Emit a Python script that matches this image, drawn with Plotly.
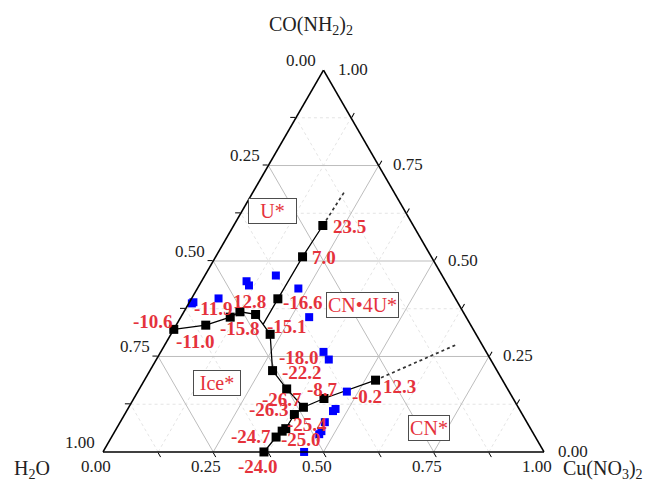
import plotly.graph_objects as go

# ---------------- data (a = CO(NH2)2, c = Cu(NO3)2, H2O = 1 - a - c) ----------------
left_a = [0.321, 0.332, 0.353, 0.367, 0.360]
left_c = [0.000, 0.067, 0.112, 0.127, 0.166]
left_t = ["-10.6", "-11.0", "-11.9", "-15.8", "12.8"]

up_a = [0.593, 0.511, 0.401]
up_c = [0.202, 0.197, 0.196]
up_t = ["23.5", "7.0", "-16.6"]

junction1 = [0.334, 0.196]

mid_a = [0.308, 0.213, 0.165, 0.117]
mid_c = [0.225, 0.278, 0.334, 0.396]
mid_t = ["-15.1", "-22.2", "-26.7", ""]

right_a = [0.140, 0.188]
right_c = [0.431, 0.524]
right_t = ["-8.7", "12.3"]

low_a = [0.098, 0.061, 0.0545, 0.039, 0.000]
low_c = [0.385, 0.384, 0.379, 0.373, 0.365]
low_t = ["-26.3", "-25.4", "-25.0", "-24.7", "-24.0"]

ext_up_end = [0.683, 0.207]
ext_right_end = [0.281, 0.661]

blue_a = [0.392, 0.389, 0.402, 0.447, 0.436, 0.462, 0.428, 0.353, 0.262, 0.242,
          0.158, 0.1126, 0.107, 0.078, 0.0545, 0.0466, 0.000]
blue_c = [0.009, 0.007, 0.061, 0.102, 0.113, 0.161, 0.229, 0.291, 0.369, 0.391,
          0.474, 0.471, 0.468, 0.464, 0.468, 0.467, 0.456]
blue_t = ["", "", "", "", "", "", "", "", "-18.0", "",
          "-0.2", "", "", "", "", "", ""]

tick_vals = [0.0, 0.25, 0.5, 0.75, 1.0]
tick_text = ["0.00", "0.25", "0.50", "0.75", "1.00"]
major_grid = [0.25, 0.5, 0.75]
minor_grid = [0.125, 0.375, 0.625, 0.875]

regions = ["U*", "CN\u20224U*", "Ice*", "CN*"]
region_a = [0.630, 0.385, 0.181, 0.064]
region_c = [0.070, 0.395, 0.167, 0.707]

# ---------------- styles (label offsets in screen pixels: dx right, dy down) ----------------
left_off = [(-21, -8), (-10, 16), (-17, -9), (0, 17), (-6, -13)]
up_off = [(27, 1), (21, 1), (25, 4)]
mid_off = [(17, -8), (29, 2), (-5, 11), (0, 0)]
right_off = [(-1, -9), (24, 6)]
low_off = [(-25, -5), (21, -4), (19, 8), (-25, -1), (-6, 14)]
blue_off = [(0, 0)] * 8 + [(-25, 6), (0, 0), (20, 5)] + [(0, 0)] * 6
tick_left_off = (-23, -10)
tick_bottom_off = (-7, 14)
tick_right_off = (29, -1)

SERIF = "Liberation Serif, Times New Roman, serif"
RED = "#e5323c"
LBL_FONT = dict(family=SERIF, size=19, color=RED, weight="bold")
TICK_FONT = dict(family=SERIF, size=17, color="#222222")
TITLE_FONT = dict(family=SERIF, size=20, color="#222222")


def bvals(a, c):
    return [1 - x - y for x, y in zip(a, c)]


def paper_xy(a, c):
    # the ternary triangle fills the plot area exactly (domain [0,1] x [0,1])
    return c + a / 2.0, a


def grid_segments(v):
    # constant a, constant c, constant b lines
    return [([v, v], [0, 1 - v]), ([0, 1 - v], [v, v]), ([0, 1 - v], [1 - v, 0])]


fig = go.Figure()

# faint dotted minor gridlines
for v in minor_grid:
    for aa, cc in grid_segments(v):
        fig.add_trace(go.Scatterternary(a=aa, c=cc, b=bvals(aa, cc), mode="lines",
                                        line=dict(color="#e4e4e4", width=1, dash="dot"),
                                        hoverinfo="skip", showlegend=False))
# major gridlines
for v in major_grid:
    for aa, cc in grid_segments(v):
        fig.add_trace(go.Scatterternary(a=aa, c=cc, b=bvals(aa, cc), mode="lines",
                                        line=dict(color="#bdbdbd", width=1),
                                        hoverinfo="skip", showlegend=False))

# phase boundary lines
path1_a = left_a + [junction1[0]] + mid_a + low_a
path1_c = left_c + [junction1[1]] + mid_c + low_c
path2_a = up_a + [junction1[0]]
path2_c = up_c + [junction1[1]]
path3_a = [mid_a[-1]] + right_a
path3_c = [mid_c[-1]] + right_c
for pa, pc in [(path1_a, path1_c), (path2_a, path2_c), (path3_a, path3_c)]:
    fig.add_trace(go.Scatterternary(a=pa, c=pc, b=bvals(pa, pc), mode="lines",
                                    line=dict(color="black", width=1.3),
                                    hoverinfo="skip", showlegend=False))

# dotted metastable extensions
for (s_a, s_c), (e_a, e_c) in [((up_a[0], up_c[0]), ext_up_end),
                               ((right_a[-1], right_c[-1]), ext_right_end)]:
    aa, cc = [s_a, e_a], [s_c, e_c]
    fig.add_trace(go.Scatterternary(a=aa, c=cc, b=bvals(aa, cc), mode="lines",
                                    line=dict(color="#333333", width=1.7, dash="dot"),
                                    hoverinfo="skip", showlegend=False))

# blue points
fig.add_trace(go.Scatterternary(a=blue_a, c=blue_c, b=bvals(blue_a, blue_c), mode="markers",
                                marker=dict(symbol="square", size=8, color="#0000ff"),
                                cliponaxis=False, showlegend=False))

# black points
all_a = left_a + up_a + mid_a + right_a + low_a
all_c = left_c + up_c + mid_c + right_c + low_c
fig.add_trace(go.Scatterternary(a=all_a, c=all_c, b=bvals(all_a, all_c), mode="markers",
                                marker=dict(symbol="square", size=9, color="black"),
                                cliponaxis=False, showlegend=False))

annotations = []

# temperature labels
lab_a = all_a + blue_a
lab_c = all_c + blue_c
lab_t = left_t + up_t + mid_t + right_t + low_t + blue_t
lab_off = left_off + up_off + mid_off + right_off + low_off + blue_off
for aa, cc, tt, (dx, dy) in zip(lab_a, lab_c, lab_t, lab_off):
    if not tt:
        continue
    x, y = paper_xy(aa, cc)
    annotations.append(dict(text=tt, x=x, y=y, xref="paper", yref="paper",
                            xanchor="center", yanchor="middle", xshift=dx, yshift=-dy,
                            showarrow=False, font=LBL_FONT))

# tick labels (H2O on left edge, Cu(NO3)2 on bottom edge, CO(NH2)2 on right edge)
n = len(tick_vals)
edge_sets = [
    ([1 - v for v in tick_vals], [0.0] * n, tick_left_off),
    ([0.0] * n, list(tick_vals), tick_bottom_off),
    (list(tick_vals), [1 - v for v in tick_vals], tick_right_off),
]
for ea, ec, (dx, dy) in edge_sets:
    for aa, cc, tt in zip(ea, ec, tick_text):
        x, y = paper_xy(aa, cc)
        annotations.append(dict(text=tt, x=x, y=y, xref="paper", yref="paper",
                                xanchor="center", yanchor="middle", xshift=dx, yshift=-dy,
                                showarrow=False, font=TICK_FONT))

# region labels
region_w = [45, 69, 44, 38]
for txt, ra_, rc_, w in zip(regions, region_a, region_c, region_w):
    x, y = paper_xy(ra_, rc_)
    annotations.append(dict(text=txt, x=x, y=y, xref="paper", yref="paper",
                            xanchor="center", yanchor="middle", width=w,
                            showarrow=False, font=dict(family=SERIF, size=20, color=RED),
                            bordercolor="#4d4d4d", borderwidth=1, borderpad=1, bgcolor="white"))

# corner titles
annotations += [
    dict(text="CO(NH<sub>2</sub>)<sub>2</sub>", x=0.471, y=1.116, xref="paper", yref="paper",
         xanchor="center", yanchor="middle", showarrow=False, font=TITLE_FONT),
    dict(text="H<sub>2</sub>O", x=-0.162, y=-0.047, xref="paper", yref="paper",
         xanchor="center", yanchor="middle", showarrow=False, font=TITLE_FONT),
    dict(text="Cu(NO<sub>3</sub>)<sub>2</sub>", x=1.134, y=-0.047, xref="paper", yref="paper",
         xanchor="center", yanchor="middle", showarrow=False, font=TITLE_FONT),
]

axis_common = dict(tickvals=sorted(major_grid + minor_grid), ticks="outside", ticklen=5,
                   tickwidth=1, tickcolor="black", showticklabels=False, showgrid=False,
                   showline=True, linecolor="black", linewidth=1.6, min=0,
                   title=dict(text=""))

fig.update_layout(
    width=655, height=484,
    margin=dict(l=103, r=111, t=70, b=32),
    paper_bgcolor="white",
    showlegend=False,
    ternary=dict(sum=1, bgcolor="white", domain=dict(x=[0, 1], y=[0, 1]),
                 aaxis=axis_common, baxis=axis_common, caxis=axis_common),
    annotations=annotations,
)

fig.write_html("out.html")
